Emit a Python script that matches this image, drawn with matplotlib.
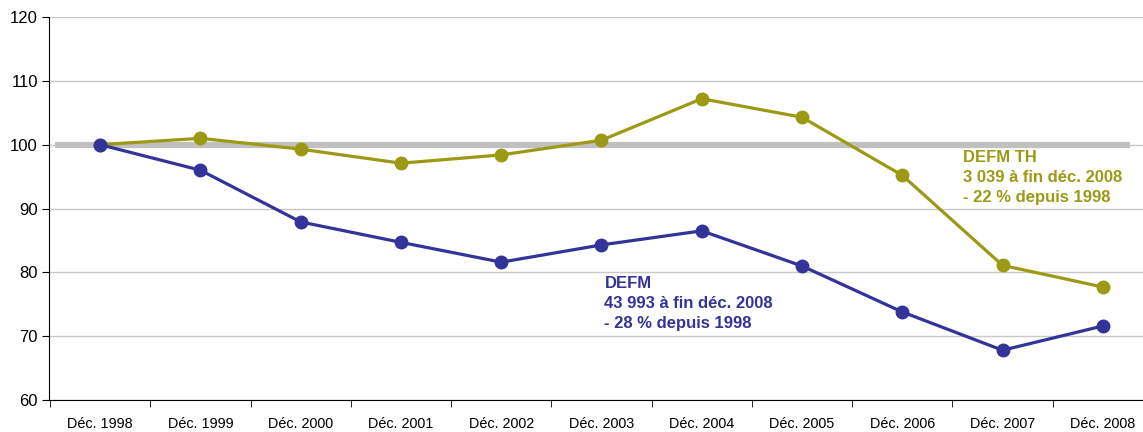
import numpy as np
import matplotlib
matplotlib.use('Agg')
import matplotlib.pyplot as plt

plt.rcParams['font.family'] = ['Liberation Sans', 'DejaVu Sans']

# Data
#==========================================================
years      = ['Déc. 1998', 'Déc. 1999', 'Déc. 2000', 'Déc. 2001', 'Déc. 2002', 'Déc. 2003',
              'Déc. 2004', 'Déc. 2005', 'Déc. 2006', 'Déc. 2007', 'Déc. 2008']
defm       = [100.0, 96.0, 87.9, 84.7, 81.6, 84.3, 86.5, 81.0, 73.8, 67.8, 71.6]
defm_th    = [100.0, 101.0, 99.3, 97.1, 98.4, 100.7, 107.2, 104.3, 95.2, 81.1, 77.7]
ref_level  = 100
y_ticks    = [60, 70, 80, 90, 100, 110, 120]

blue  = '#333399'
olive = '#9c9a14'
x = np.arange(len(years))

fig = plt.figure(figsize=(11.43, 4.32), dpi=100)
ax = fig.add_axes([0.0429, 0.074, 0.957, 0.8866])

ax.yaxis.grid(True, color='#c8c8c8', lw=1.0)
ax.set_axisbelow(True)

# reference line at 100
ax.plot([-0.45, 10.27], [ref_level, ref_level], c='#c0c0c0', lw=4.5, zorder=2, solid_capstyle='butt')
ax.plot(x, defm_th, c=olive, lw=2.3, marker='o', ms=9, zorder=3)
ax.plot(x, defm, c=blue, lw=2.3, marker='o', ms=9, zorder=3)

ax.text(5.03, 75.1, 'DEFM\n43 993 à fin déc. 2008\n- 28 % depuis 1998', color=blue,
        fontsize=12, fontweight='bold', va='center', ha='left', linespacing=1.42)
ax.text(8.61, 94.8, 'DEFM TH\n3 039 à fin déc. 2008\n- 22 % depuis 1998', color=olive,
        fontsize=12, fontweight='bold', va='center', ha='left', linespacing=1.42)

ax.set_xlim(-0.51, 10.4)
ax.set_ylim(60, 120)
ax.set_yticks(y_ticks)
ax.tick_params(axis='y', labelsize=12, length=5, direction='out', pad=3)
ax.set_xticks(x)
ax.set_xticklabels(years, fontsize=10.4)
ax.set_xticks(np.arange(-0.5, len(years) - 0.5, 1), minor=True)
ax.tick_params(axis='x', which='major', length=0, pad=12)
ax.tick_params(axis='x', which='minor', length=5, direction='out')

for s in ['top', 'right']:
    ax.spines[s].set_visible(False)
ax.spines['left'].set_color('black')
ax.spines['bottom'].set_color('black')

plt.savefig('out.png', dpi=100)
